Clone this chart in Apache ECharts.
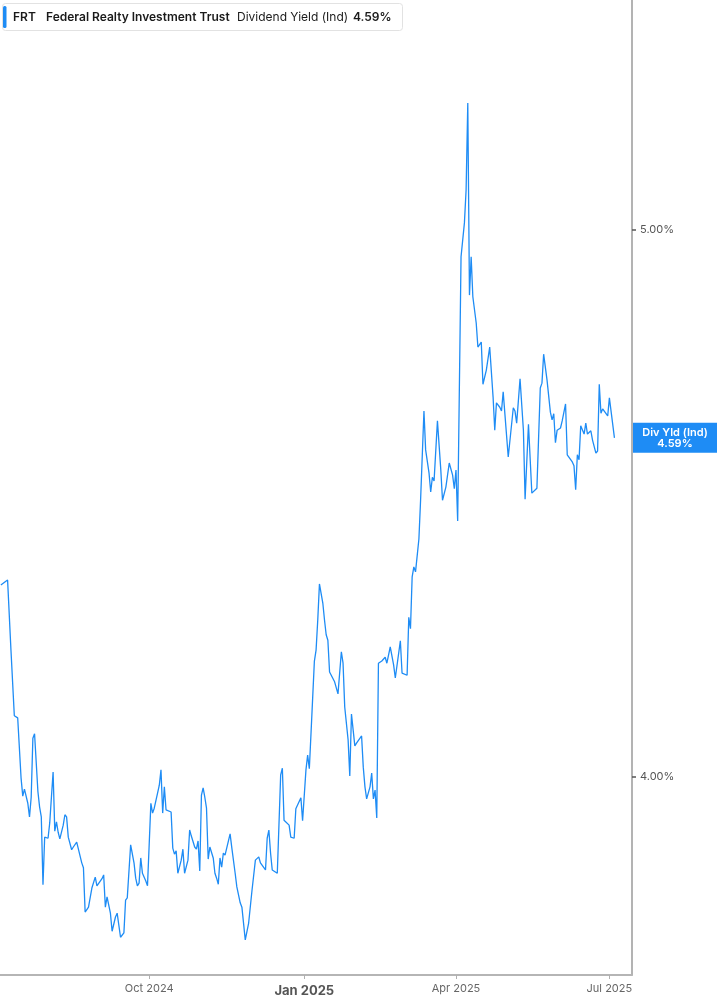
<!DOCTYPE html>
<html><head><meta charset="utf-8">
<script src="https://cdn.jsdelivr.net/npm/echarts@6/dist/echarts.min.js"></script>
<style>html,body{margin:0;padding:0;background:#fff}#c{width:717px;height:1005px}</style>
</head><body><div id="c"></div>
<script>
const dates = [
'2024-07-05','2024-07-09','2024-07-11','2024-07-13','2024-07-15','2024-07-17','2024-07-18','2024-07-19','2024-07-21','2024-07-22',
'2024-07-23','2024-07-24','2024-07-25','2024-07-27','2024-07-28','2024-07-29','2024-07-30','2024-07-31','2024-08-02','2024-08-03',
'2024-08-04','2024-08-05','2024-08-06','2024-08-07','2024-08-08','2024-08-09','2024-08-11','2024-08-12','2024-08-13','2024-08-14',
'2024-08-16','2024-08-17','2024-08-19','2024-08-20','2024-08-22','2024-08-23','2024-08-24','2024-08-26','2024-08-27','2024-08-28',
'2024-08-29','2024-08-30','2024-08-31','2024-09-03','2024-09-04','2024-09-05','2024-09-06','2024-09-08','2024-09-09','2024-09-11',
'2024-09-12','2024-09-13','2024-09-14','2024-09-16','2024-09-17','2024-09-18','2024-09-20','2024-09-22','2024-09-23','2024-09-24',
'2024-09-25','2024-09-26','2024-09-27','2024-09-29','2024-09-30','2024-10-02','2024-10-03','2024-10-04','2024-10-06','2024-10-07',
'2024-10-08','2024-10-09','2024-10-10','2024-10-11','2024-10-14','2024-10-15','2024-10-16','2024-10-17','2024-10-18','2024-10-20',
'2024-10-21','2024-10-22','2024-10-23','2024-10-24','2024-10-25','2024-10-26','2024-10-28','2024-10-29','2024-10-30','2024-10-31',
'2024-11-01','2024-11-02','2024-11-03','2024-11-04','2024-11-05','2024-11-06','2024-11-08','2024-11-09','2024-11-10','2024-11-11',
'2024-11-12','2024-11-13','2024-11-14','2024-11-15','2024-11-18','2024-11-19','2024-11-20','2024-11-21','2024-11-22','2024-11-24',
'2024-11-25','2024-11-26','2024-11-27','2024-11-29','2024-12-01','2024-12-03','2024-12-04','2024-12-05','2024-12-06','2024-12-09',
'2024-12-10','2024-12-11','2024-12-12','2024-12-13','2024-12-16','2024-12-17','2024-12-18','2024-12-19','2024-12-20','2024-12-23',
'2024-12-24','2024-12-26','2024-12-27','2024-12-30','2024-12-31','2025-01-02','2025-01-03','2025-01-04','2025-01-05','2025-01-06',
'2025-01-07','2025-01-08','2025-01-09','2025-01-10','2025-01-12','2025-01-13','2025-01-14','2025-01-15','2025-01-16','2025-01-17',
'2025-01-19','2025-01-21','2025-01-23','2025-01-24','2025-01-25','2025-01-27','2025-01-28','2025-01-29','2025-01-31','2025-02-01',
'2025-02-04','2025-02-05','2025-02-06','2025-02-07','2025-02-09','2025-02-10','2025-02-11','2025-02-12','2025-02-13','2025-02-14',
'2025-02-16','2025-02-18','2025-02-19','2025-02-21','2025-02-23','2025-02-24','2025-02-25','2025-02-27','2025-02-28','2025-03-03',
'2025-03-04','2025-03-05','2025-03-06','2025-03-07','2025-03-08','2025-03-10','2025-03-11','2025-03-13','2025-03-14','2025-03-16',
'2025-03-17','2025-03-18','2025-03-19','2025-03-21','2025-03-23','2025-03-24','2025-03-26','2025-03-28','2025-03-30','2025-03-31',
'2025-04-01','2025-04-02','2025-04-04','2025-04-06','2025-04-07','2025-04-08','2025-04-09','2025-04-10','2025-04-11','2025-04-13',
'2025-04-14','2025-04-15','2025-04-16','2025-04-17','2025-04-19','2025-04-21','2025-04-23','2025-04-24','2025-04-25','2025-04-27',
'2025-04-28','2025-04-29','2025-04-30','2025-05-02','2025-05-05','2025-05-06','2025-05-07','2025-05-08','2025-05-09','2025-05-11',
'2025-05-12','2025-05-14','2025-05-16','2025-05-19','2025-05-21','2025-05-22','2025-05-23','2025-05-25','2025-05-27','2025-05-28',
'2025-05-29','2025-05-30','2025-05-31','2025-06-02','2025-06-03','2025-06-04','2025-06-05','2025-06-06','2025-06-09','2025-06-10',
'2025-06-11','2025-06-12','2025-06-13','2025-06-14','2025-06-16','2025-06-17','2025-06-18','2025-06-20','2025-06-21','2025-06-23',
'2025-06-24','2025-06-25','2025-06-26','2025-06-27','2025-06-30','2025-07-01','2025-07-04'
];
const yields = [
4.351,4.360,4.232,4.112,4.108,3.998,3.965,3.978,3.952,3.927,
3.963,4.071,4.079,3.973,3.945,3.927,3.803,3.890,3.888,3.916,
3.963,4.009,3.901,3.918,3.899,3.887,3.912,3.931,3.927,3.890,
3.867,3.872,3.881,3.881,3.843,3.834,3.753,3.762,3.762,3.797,
3.799,3.817,3.801,3.814,3.821,3.762,3.781,3.751,3.718,3.744,
3.751,3.750,3.707,3.715,3.775,3.779,3.876,3.843,3.815,3.801,
3.806,3.852,3.824,3.810,3.801,3.952,3.934,3.943,3.971,3.985,
4.013,3.934,3.982,3.940,3.936,3.870,3.859,3.865,3.824,3.848,
3.868,3.824,3.821,3.848,3.903,3.892,3.872,3.868,3.883,3.828,
3.967,3.980,3.963,3.943,3.850,3.872,3.852,3.824,3.815,3.804,
3.852,3.835,3.861,3.857,3.896,3.871,3.871,3.824,3.799,3.770,
3.762,3.762,3.702,3.733,3.793,3.848,3.846,3.854,3.843,3.830,
3.888,3.903,3.861,3.830,3.824,3.824,4.004,4.016,3.921,3.912,
3.890,3.888,3.942,3.962,3.920,4.013,4.040,4.015,4.080,4.146,
4.212,4.232,4.287,4.353,4.318,4.287,4.260,4.250,4.192,4.190,
4.174,4.152,4.229,4.208,4.128,4.068,4.002,4.115,4.057,4.062,
4.075,4.018,3.982,3.960,3.982,4.007,3.960,3.976,3.925,4.208,
4.212,4.219,4.208,4.238,4.205,4.181,4.181,4.249,4.190,4.186,
4.292,4.271,4.366,4.384,4.375,4.435,4.506,4.669,4.598,4.556,
4.521,4.548,4.541,4.651,4.561,4.506,4.530,4.574,4.552,4.527,
4.561,4.468,4.951,5.013,5.073,5.232,4.881,4.951,4.878,4.830,
4.786,4.786,4.795,4.718,4.744,4.786,4.695,4.634,4.684,4.676,
4.669,4.704,4.702,4.585,4.675,4.669,4.647,4.647,4.728,4.634,
4.508,4.645,4.519,4.528,4.711,4.720,4.773,4.726,4.667,4.653,
4.664,4.611,4.634,4.638,4.651,4.651,4.682,4.589,4.576,4.569,
4.525,4.589,4.580,4.642,4.627,4.647,4.627,4.633,4.616,4.592,
4.596,4.718,4.665,4.673,4.660,4.693,4.620
];
const xTickDates = ['2024-10-01','2025-01-01','2025-04-01','2025-07-01'];
const xTickLabels = ['Oct 2024','Jan 2025','Apr 2025','Jul 2025'];
const yTickValues = [4, 5];
const legendTicker = 'FRT';
const legendName = 'Federal Realty Investment Trust';
const legendMetric = 'Dividend Yield (Ind)';
const legendValue = '4.59%';
const tagTitle = 'Div Yld (Ind)';
const tagValue = '4.59%';

const BLUE = '#1e8cf5';
const FONT = 'Inter, "Noto Sans", sans-serif';
const chart = echarts.init(document.getElementById('c'), null, {renderer: 'canvas'});
const ts = d => +new Date(d + 'T00:00:00');
const tickTs = xTickDates.map(ts);

chart.setOption({
  animation: false,
  backgroundColor: '#fff',
  grid: {left: 0, right: 85, top: 0, bottom: 30, containLabel: false},
  xAxis: {
    type: 'value',
    min: ts('2024-07-04') + 12 * 3600e3,
    max: ts('2025-07-14') + 10 * 3600e3,
    axisLine: {show: true, onZero: false, lineStyle: {color: '#b5b5b5', width: 2}},
    axisTick: {show: true, customValues: tickTs, length: 4, lineStyle: {color: '#b0b0b0', width: 1}},
    axisLabel: {
      show: true, customValues: tickTs, margin: 8, showMinLabel: true, showMaxLabel: true,
      fontFamily: FONT, fontSize: 11, color: '#666',
      formatter: v => {
        let best = 0;
        tickTs.forEach((t, i) => { if (Math.abs(t - v) < Math.abs(tickTs[best] - v)) best = i; });
        return best === 1 ? '{b|' + xTickLabels[best] + '}' : xTickLabels[best];
      },
      rich: {b: {fontFamily: FONT, fontSize: 13, fontWeight: 'bold', color: '#555', padding: [2, 0, 0, 0]}}
    },
    splitLine: {show: false}
  },
  yAxis: {
    type: 'value', position: 'right',
    min: 3.6380, max: 5.4205,
    axisLine: {show: true, lineStyle: {color: '#9a9a9a', width: 1.5}},
    axisTick: {show: true, customValues: yTickValues, length: 4, lineStyle: {color: '#555', width: 1.5}},
    axisLabel: {show: true, customValues: yTickValues, margin: 8, fontFamily: FONT, fontSize: 11, color: '#555',
      formatter: v => v.toFixed(2) + '%'},
    splitLine: {show: false}
  },
  series: [{
    type: 'line',
    data: dates.map((d, i) => [ts(d), yields[i]]),
    showSymbol: false,
    lineStyle: {color: BLUE, width: 1.3},
    itemStyle: {color: BLUE}
  }]
});

const py = chart.convertToPixel({yAxisIndex: 0}, yields[yields.length - 1]);
chart.setOption({
  graphic: [
    {type: 'rect', shape: {x: 2.5, y: 3.5, width: 400, height: 27, r: 3}, style: {fill: '#fff', stroke: '#e2e2e2', lineWidth: 1}},
    {type: 'rect', shape: {x: 3, y: 6, width: 3.5, height: 22, r: 1.5}, style: {fill: BLUE}},
    {type: 'text', x: 13, y: 17, style: {text: legendTicker, font: '600 12px ' + FONT, fill: '#1a1a1a', verticalAlign: 'middle'}},
    {type: 'text', x: 46, y: 17, style: {text: legendName, font: '600 12px ' + FONT, fill: '#1a1a1a', verticalAlign: 'middle'}},
    {type: 'text', x: 237, y: 17, style: {text: legendMetric, font: '400 12px ' + FONT, fill: '#1a1a1a', verticalAlign: 'middle'}},
    {type: 'text', x: 353, y: 17, style: {text: legendValue, font: '600 12px ' + FONT, fill: '#1a1a1a', verticalAlign: 'middle'}},
    {type: 'rect', shape: {x: 633, y: py - 15, width: 84, height: 30}, style: {fill: BLUE}},
    {type: 'text', x: 675, y: py - 5, style: {text: tagTitle, font: '600 11px ' + FONT, fill: '#fff', align: 'center', verticalAlign: 'middle'}},
    {type: 'text', x: 675, y: py + 6, style: {text: tagValue, font: '600 11px ' + FONT, fill: '#fff', align: 'center', verticalAlign: 'middle'}}
  ]
});
</script>
</body></html>
